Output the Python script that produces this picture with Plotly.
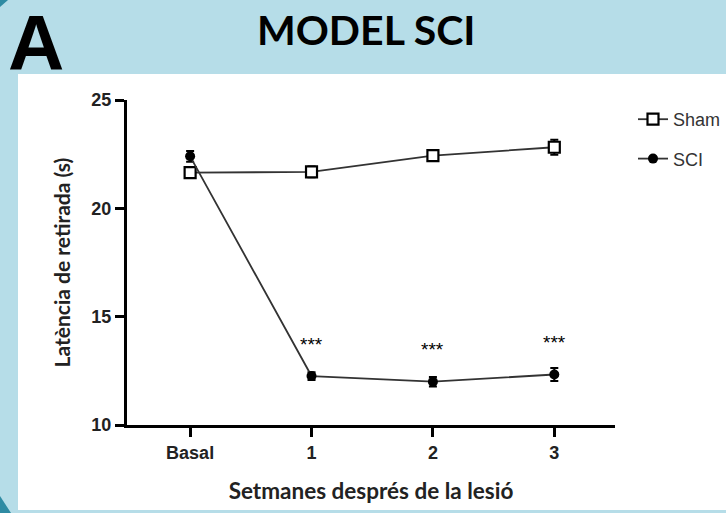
import plotly.graph_objects as go

# ---- data ----
categories = ["Basal", "1", "2", "3"]
x_pos = [0, 1, 2, 3]
sham_mean = [21.65, 21.68, 22.43, 22.82]
sham_err = [0.25, 0.25, 0.25, 0.35]
sci_mean = [22.40, 12.26, 12.00, 12.33]
sci_err = [0.25, 0.18, 0.22, 0.30]
sig_labels = ["", "***", "***", "***"]
y_ticks = [10, 15, 20, 25]

W, H = 726, 513
def px_x(p):
    return p / W
def px_y(p):
    return 1 - p / H

fig = go.Figure()

fig.add_trace(go.Scatter(
    x=x_pos, y=sham_mean, name="Sham", mode="lines+markers",
    line=dict(color="#333333", width=1.8),
    marker=dict(symbol="square", size=11, color="white", line=dict(color="black", width=2.2)),
    error_y=dict(type="data", array=sham_err, color="black", thickness=2, width=4),
    legendgroup="a",
))
fig.add_trace(go.Scatter(
    x=x_pos, y=sci_mean, name="SCI", mode="lines+markers",
    line=dict(color="#333333", width=1.8),
    marker=dict(symbol="circle", size=10, color="black"),
    error_y=dict(type="data", array=sci_err, color="black", thickness=2, width=4),
    legendgroup="b",
))

for xi, yi, lab in zip(x_pos, sci_mean, sig_labels):
    if lab:
        fig.add_annotation(x=xi, y=yi, text=lab, showarrow=False, yshift=32,
                           font=dict(family="Liberation Sans", size=19, color="black"))

teal = "#2f8ba3"
shapes = [
    dict(type="rect", xref="paper", yref="paper", x0=px_x(18), x1=1.0,
         y0=px_y(510), y1=px_y(74), fillcolor="white", line=dict(width=0), layer="below"),
    dict(type="path", xref="paper", yref="paper",
         path="M 0 %f L %f %f L 0 %f Z" % (px_y(496), px_x(11), px_y(513), px_y(513)),
         fillcolor=teal, line=dict(width=0), layer="below"),
    dict(type="path", xref="paper", yref="paper",
         path="M 0 1 L %f 1 L 0 %f Z" % (px_x(8), px_y(7)),
         fillcolor=teal, line=dict(width=0), layer="below"),
]

fig.update_layout(
    width=W, height=H,
    margin=dict(l=0, r=0, t=0, b=0, autoexpand=False),
    paper_bgcolor="#b6dde8",
    plot_bgcolor="rgba(0,0,0,0)",
    shapes=shapes,
    showlegend=True,
    legend=dict(x=px_x(633), y=px_y(101), xanchor="left", yanchor="top",
                traceorder="grouped", tracegroupgap=13,
                bgcolor="rgba(0,0,0,0)",
                font=dict(family="Liberation Sans", size=18, color="#333333")),
    xaxis=dict(domain=[px_x(127), px_x(615)], range=[-0.52, 3.5], automargin=False,
               tickvals=x_pos, ticktext=["<b>%s</b>" % c for c in categories],
               tickfont=dict(family="Liberation Sans", size=18, color="#222222"),
               showline=True, linecolor="black", linewidth=3,
               ticks="outside", ticklen=9, tickwidth=3, tickcolor="black",
               showgrid=False, zeroline=False,
               title=dict(text="<b>Setmanes després de la lesió</b>",
                          font=dict(family="Lato", size=22.5, color="#222222"), standoff=22)),
    yaxis=dict(domain=[px_y(425), px_y(100)], range=[10, 25], automargin=False,
               tickvals=y_ticks, ticktext=["<b>%d</b>" % v for v in y_ticks],
               tickfont=dict(family="Liberation Sans", size=18, color="#222222"),
               showline=True, linecolor="black", linewidth=3,
               ticks="outside", ticklen=9, tickwidth=3, tickcolor="black",
               showgrid=False, zeroline=False,
               title=dict(text="<b>Latència de retirada (s)</b>",
                          font=dict(family="Lato", size=21, color="#222222"), standoff=16)),
)

fig.add_annotation(xref="paper", yref="paper", x=px_x(366), y=px_y(29), text="<b>MODEL SCI</b>",
                   showarrow=False, xanchor="center", yanchor="middle",
                   font=dict(family="Lato", size=41, color="black"))
fig.add_annotation(xref="paper", yref="paper", x=px_x(36), y=px_y(43), text="<b>A</b>",
                   showarrow=False, xanchor="center", yanchor="middle",
                   font=dict(family="Liberation Sans", size=78, color="black"))

fig.write_html("out.html")
